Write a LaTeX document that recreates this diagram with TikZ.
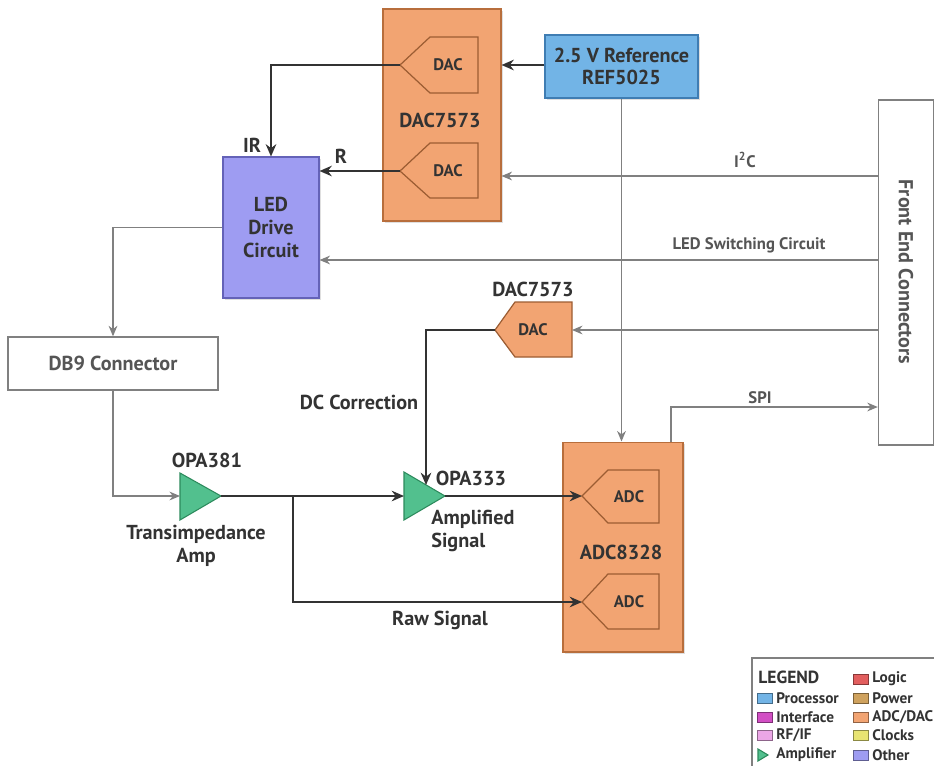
\documentclass[tikz,border=0pt]{standalone}
\usepackage{fontspec}
\setmainfont{PT Sans}
\usetikzlibrary{arrows.meta,shadows}

\definecolor{txtdark}{HTML}{333333}
\definecolor{txtgray}{HTML}{555555}
\definecolor{linegray}{HTML}{808080}
\definecolor{adcorange}{HTML}{F2A472}
\definecolor{adcedge}{HTML}{B86E3C}
\definecolor{refblue}{HTML}{72B4E6}
\definecolor{refedge}{HTML}{3F7DB3}
\definecolor{ledpurple}{HTML}{9E9CF2}
\definecolor{ledge}{HTML}{6462B8}
\definecolor{ampgreen}{HTML}{52C08E}
\definecolor{ampedge}{HTML}{2C8A5C}
\definecolor{legmagenta}{HTML}{D24FC4}
\definecolor{legpink}{HTML}{EBA6E6}
\definecolor{legred}{HTML}{E25E5E}
\definecolor{legtan}{HTML}{CFA25E}
\definecolor{legyellow}{HTML}{E8E472}

\tikzset{
  lbl/.style={font=\bfseries\fontsize{11.5}{13}\selectfont, text=txtdark, align=center, inner sep=0pt},
  inlbl/.style={font=\bfseries\fontsize{9.5}{11}\selectfont, text=txtdark, inner sep=0pt},
  glbl/.style={font=\bfseries\fontsize{9.5}{11}\selectfont, text=txtgray, inner sep=0pt},
  leglbl/.style={font=\bfseries\fontsize{8.7}{10}\selectfont, text=txtdark, anchor=west, inner sep=0pt},
  convbox/.style={draw=adcedge, fill=adcorange, line width=0.6pt, drop shadow={opacity=0.25,shadow xshift=1pt,shadow yshift=-1pt}},
  convpent/.style={draw=adcedge!85!black, fill=adcorange, line width=0.7pt},
  ampshape/.style={draw=ampedge, fill=ampgreen, line width=0.6pt},
  plainbox/.style={draw=linegray, fill=white, line width=0.8pt},
  darkarr/.style={draw=txtdark, line width=1.3pt, -{Stealth[length=7pt,width=6pt]}},
  grayarr/.style={draw=linegray, line width=0.7pt, -{Stealth[length=6pt,width=5pt]}},
}

\begin{document}
\begin{tikzpicture}[x=0.02cm, y=-0.02cm]
  \useasboundingbox (0,0) rectangle (934,765);

  % blocks
  \node[convbox, minimum width=2.36cm, minimum height=4.24cm] (dacbox) at (442,115) {};
  \node[lbl] at (440,120) {DAC7573};
  \node[draw=refedge, fill=refblue, line width=0.6pt, lbl, minimum width=3.06cm, minimum height=1.26cm,
        drop shadow={opacity=0.25,shadow xshift=1pt,shadow yshift=-1pt}] (ref) at (621.5,66.5) {2.5 V Reference\\REF5025};
  \node[draw=ledge, fill=ledpurple, line width=0.6pt, lbl, minimum width=1.92cm, minimum height=2.82cm,
        drop shadow={opacity=0.25,shadow xshift=1pt,shadow yshift=-1pt}] (led) at (271,227.5) {LED\\Drive\\Circuit};
  \node[plainbox, minimum width=4.2cm, minimum height=1.06cm, font=\bfseries\fontsize{11.5}{13}\selectfont, text=txtgray] (db9) at (113,363.5) {DB9 Connector};
  \node[convbox, minimum width=2.4cm, minimum height=4.2cm] (adcbox) at (623,547) {};
  \node[lbl] at (621,552) {ADC8328};
  \node[plainbox, minimum width=1.1cm, minimum height=6.9cm] (fec) at (906,272.5) {};
  \node[font=\bfseries\fontsize{11.5}{13}\selectfont, text=txtgray, rotate=-90] at (906,272) {Front End Connectors};

  % converters
  \draw[convpent] (400,65) -- (430,37) -- (478,37) -- (478,93) -- (430,93) -- cycle;
  \coordinate (dacAtip) at (400,65);
  \node[inlbl] at (448,65) {DAC};
  \draw[convpent] (400,171) -- (430,143) -- (478,143) -- (478,198) -- (430,198) -- cycle;
  \coordinate (dacBtip) at (400,171);
  \node[inlbl] at (448,171) {DAC};
  \draw[convpent] (495,330) -- (515,302) -- (572,302) -- (572,357) -- (515,357) -- cycle;
  \coordinate (dacCtip) at (495,330);
  \coordinate (dacCin) at (572,330);
  \node[inlbl] at (533,330) {DAC};
  \node[lbl] at (533,289) {DAC7573};
  \draw[convpent] (582,496) -- (608,470) -- (659,470) -- (659,523) -- (608,523) -- cycle;
  \coordinate (adcAtip) at (582,496);
  \node[inlbl] at (629,497) {ADC};
  \draw[convpent] (582,602) -- (608,574) -- (659,574) -- (659,629) -- (608,629) -- cycle;
  \coordinate (adcBtip) at (582,602);
  \node[inlbl] at (629,602) {ADC};

  % amplifiers
  \draw[ampshape] (180,473) -- (221,496) -- (180,520) -- cycle;
  \coordinate (opaAin) at (180,496);
  \coordinate (opaAout) at (221,496);
  \node[lbl] at (207,460) {OPA381};
  \node[lbl] at (196,546) {Transimpedance\\Amp};
  \draw[ampshape] (404,472) -- (445,496) -- (404,520) -- cycle;
  \coordinate (opaBin) at (404,496);
  \coordinate (opaBout) at (445,496);
  \coordinate (opaBtop) at (426,485);
  \node[lbl] at (471,478) {OPA333};
  \node[lbl, align=left, anchor=west] at (431,531) {Amplified\\Signal};

  % connections
  \draw[darkarr] (ref.west |- dacAtip) -- (dacAtip -| dacbox.east);
  \draw[darkarr] (dacAtip) -| (led.north);
  \draw[darkarr] (dacBtip) -- (dacBtip -| led.east);
  \node[lbl] at (252,145) {IR};
  \node[lbl] at (341,156) {R};
  \draw[grayarr] (fec.west |- 0,176) -- (dacbox.east |- 0,176);
  \node[glbl] at (745,160) {I\textsuperscript{2}C};
  \draw[grayarr] (fec.west |- 0,260) -- (led.east |- 0,260);
  \node[glbl] at (749,245) {LED Switching Circuit};
  \draw[grayarr] (fec.west |- dacCin) -- (dacCin);
  \draw[darkarr] (dacCtip) -| (opaBtop);
  \node[lbl] at (359,402) {DC Correction};
  \draw[grayarr] (led.west) -| (db9.north);
  \draw[grayarr] (db9.south) |- (opaAin);
  \draw[darkarr] (opaAout) -- (opaBin);
  \coordinate (split) at (293,496);
  \draw[darkarr] (split) |- (adcBtip);
  \node[lbl] at (440,620) {Raw Signal};
  \draw[darkarr] (opaBout) -- (adcAtip);
  \draw[grayarr] (ref.south) -- (ref.south |- adcbox.north);
  \draw[grayarr] (adcbox.north -| 671,0) |- (fec.west |- 0,407);
  \node[glbl] at (760,398) {SPI};

  % legend
  \draw[draw=linegray, line width=0.8pt] (752,658) rectangle (950,780);
  \node[leglbl, font=\bfseries\fontsize{10}{11}\selectfont] at (758,677) {LEGEND};
  \foreach \cl/\yy/\name in {refblue/698/{Processor}, legmagenta/717/{Interface}, legpink/735/{RF/IF}}{
    \draw[fill=\cl, draw=\cl!60!black] (757,\yy-5) rectangle (772,\yy+5);
    \node[leglbl] at (776,\yy) {\name};
  }
  \draw[ampshape] (758,749) -- (768,755) -- (758,761) -- cycle;
  \node[leglbl] at (776,755) {Amplifier};
  \foreach \cl/\yy/\name in {legred/679/{Logic}, legtan/698/{Power}, adcorange/717/{ADC/DAC}, legyellow/735/{Clocks}, ledpurple/755/{Other}}{
    \draw[fill=\cl, draw=\cl!60!black] (853,\yy-5) rectangle (868,\yy+5);
    \node[leglbl] at (872,\yy) {\name};
  }
\end{tikzpicture}
\end{document}
